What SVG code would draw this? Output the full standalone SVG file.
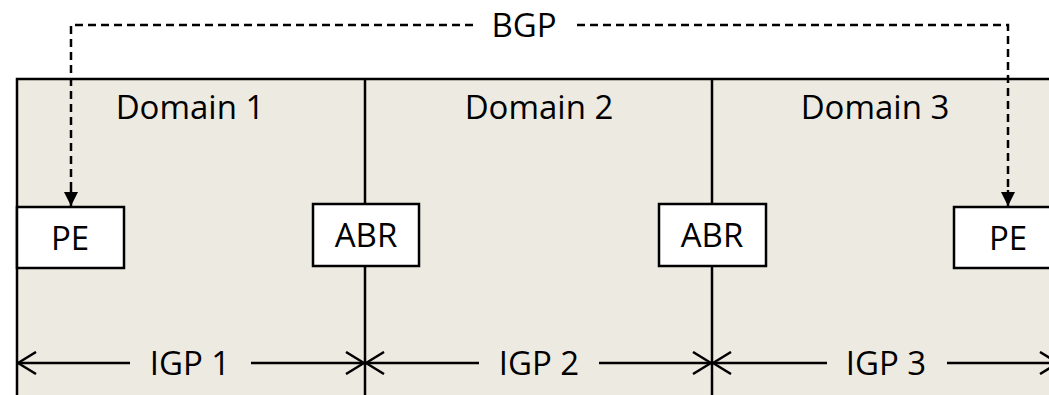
<svg xmlns="http://www.w3.org/2000/svg" width="1049" height="395" viewBox="0 0 1049 395">
  <style>
    .lbl { font-family: "Open Sans", "Liberation Sans", sans-serif; font-size: 33px; fill: #000; text-anchor: middle; }
    .box { fill: #fff; stroke: #000; stroke-width: 2.5; }
    .line { stroke: #000; stroke-width: 2.5; fill: none; }
    .dash { stroke: #000; stroke-width: 2.5; fill: none; stroke-dasharray: 8 5; }
  </style>
  <defs>
    <marker id="open" viewBox="0 0 20 24" refX="19" refY="12" markerWidth="20" markerHeight="24" markerUnits="userSpaceOnUse" orient="auto">
      <path d="M1 1 L19 12 L1 23" fill="none" stroke="#000" stroke-width="2.5"/>
    </marker>
    <marker id="solid" viewBox="0 0 16 14" refX="14" refY="7" markerWidth="16" markerHeight="14" markerUnits="userSpaceOnUse" orient="auto">
      <path d="M0 0 L14 7 L0 14 Z" fill="#000"/>
    </marker>
  </defs>

  <!-- domain area -->
  <g id="domains">
    <rect x="17" y="79" width="1060" height="330" fill="#EDEAE1" stroke="#000" stroke-width="2.5"/>
    <line class="line" x1="365" y1="79" x2="365" y2="395"/>
    <line class="line" x1="712" y1="79" x2="712" y2="395"/>
    <text class="lbl" x="190" y="119">Domain 1</text>
    <text class="lbl" x="539" y="119">Domain 2</text>
    <text class="lbl" x="875" y="119">Domain 3</text>
  </g>

  <!-- connectors -->
  <g id="connectors">
    <path class="dash" d="M473 25 H71 V193"/>
    <path class="dash" d="M577 25 H1008 V193"/>
    <line class="line" x1="71" y1="190" x2="71" y2="206" marker-end="url(#solid)"/>
    <line class="line" x1="1008" y1="190" x2="1008" y2="206" marker-end="url(#solid)"/>
    <text class="lbl" x="524" y="37">BGP</text>

    <line class="line" x1="130" y1="363" x2="18" y2="363" marker-end="url(#open)"/>
    <line class="line" x1="251" y1="363" x2="364" y2="363" marker-end="url(#open)"/>
    <text class="lbl" x="190" y="375">IGP 1</text>

    <line class="line" x1="479" y1="363" x2="366" y2="363" marker-end="url(#open)"/>
    <line class="line" x1="599" y1="363" x2="711" y2="363" marker-end="url(#open)"/>
    <text class="lbl" x="539" y="375">IGP 2</text>

    <line class="line" x1="827" y1="363" x2="713" y2="363" marker-end="url(#open)"/>
    <line class="line" x1="947" y1="363" x2="1058" y2="363" marker-end="url(#open)"/>
    <text class="lbl" x="886" y="375">IGP 3</text>
  </g>

  <g id="pe1">
    <rect class="box" x="17" y="207" width="107" height="61"/>
    <text class="lbl" x="70" y="250">PE</text>
  </g>
  <g id="abr1">
    <rect class="box" x="313" y="204" width="106" height="62"/>
    <text class="lbl" x="366" y="247">ABR</text>
  </g>
  <g id="abr2">
    <rect class="box" x="659" y="204" width="107" height="62"/>
    <text class="lbl" x="712" y="247">ABR</text>
  </g>
  <g id="pe2">
    <rect class="box" x="954" y="207" width="108" height="61"/>
    <text class="lbl" x="1008" y="250">PE</text>
  </g>
</svg>
